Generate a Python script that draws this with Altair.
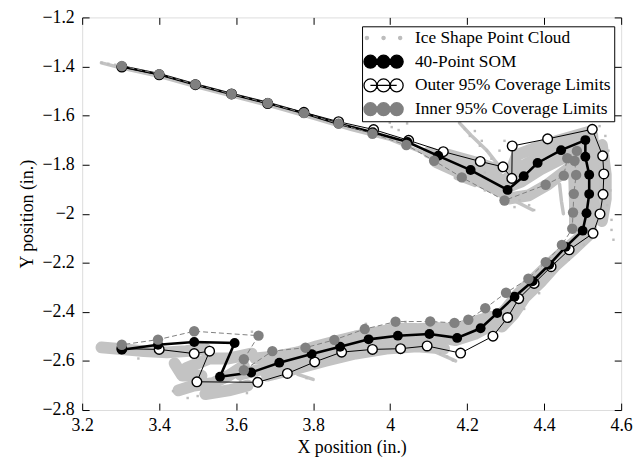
import altair as alt
import pandas as pd

# ---------------- data ----------------
x_ticks = [3.2, 3.4, 3.6, 3.8, 4.0, 4.2, 4.4, 4.6]
y_ticks = [-2.8, -2.6, -2.4, -2.2, -2.0, -1.8, -1.6, -1.4, -1.2]

series_names = ["Ice Shape Point Cloud", "40-Point SOM",
                "Outer 95% Coverage Limits", "Inner 95% Coverage Limits"]

som_x = [3.303, 3.400, 3.494, 3.588, 3.682, 3.776, 3.866, 3.955, 4.045, 4.125,
         4.209, 4.305, 4.347, 4.383, 4.444, 4.507, 4.507, 4.517, 4.517, 4.510,
         4.500, 4.456, 4.413, 4.370, 4.323, 4.278, 4.235, 4.174, 4.102, 4.020,
         3.944, 3.870, 3.796, 3.712, 3.639, 3.558, 3.596, 3.491, 3.397, 3.303]
som_y = [-1.400, -1.432, -1.473, -1.512, -1.549, -1.590, -1.633, -1.668, -1.708, -1.764,
         -1.822, -1.903, -1.847, -1.793, -1.741, -1.700, -1.768, -1.841, -1.920, -1.998,
         -2.069, -2.135, -2.208, -2.275, -2.338, -2.405, -2.467, -2.506, -2.490, -2.497,
         -2.512, -2.542, -2.572, -2.607, -2.647, -2.664, -2.527, -2.523, -2.534, -2.554]

outer_x = [3.303, 3.400, 3.494, 3.588, 3.682, 3.776, 3.866, 3.957, 4.048, 4.138,
           4.234, 4.293, 4.316, 4.317, 4.409, 4.525, 4.552, 4.555, 4.553, 4.545,
           4.527, 4.465, 4.418, 4.374, 4.334, 4.305, 4.267, 4.183, 4.096, 4.027,
           3.954, 3.874, 3.804, 3.733, 3.656, 3.498, 3.531, 3.491, 3.400, 3.303]
outer_y = [-1.402, -1.434, -1.474, -1.512, -1.551, -1.587, -1.625, -1.657, -1.701, -1.747,
           -1.787, -1.809, -1.856, -1.724, -1.695, -1.656, -1.764, -1.838, -1.921, -2.001,
           -2.080, -2.147, -2.216, -2.284, -2.346, -2.423, -2.499, -2.568, -2.539, -2.550,
           -2.553, -2.564, -2.604, -2.651, -2.687, -2.685, -2.560, -2.570, -2.553, -2.550]

inner_x = [3.303, 3.400, 3.494, 3.588, 3.682, 3.776, 3.866, 3.954, 4.042, 4.114,
           4.186, 4.297, 4.404, 4.451, 4.460, 4.485, 4.479, 4.483, 4.477, 4.475,
           4.473, 4.446, 4.404, 4.359, 4.301, 4.247, 4.203, 4.167, 4.104, 4.014,
           3.934, 3.855, 3.780, 3.694, 3.620, 3.620, 3.658, 3.491, 3.397, 3.303]
inner_y = [-1.398, -1.431, -1.473, -1.512, -1.549, -1.590, -1.633, -1.674, -1.720, -1.784,
           -1.852, -1.946, -1.882, -1.845, -1.774, -1.744, -1.784, -1.842, -1.919, -1.995,
           -2.061, -2.127, -2.197, -2.265, -2.322, -2.385, -2.432, -2.445, -2.439, -2.440,
           -2.470, -2.514, -2.546, -2.560, -2.638, -2.593, -2.497, -2.479, -2.513, -2.534]

# dense streaks of the ice-shape point cloud (one id per streak)
band_id = ([1] * 5 + [2] * 5 + [3] * 5 + [4] * 4 + [5] * 4 + [6] * 4 + [7] * 3
           + [8] * 4 + [9] * 4 + [10] * 4 + [11] * 4 + [12] * 7 + [13] * 7
           + [14] * 15 + [15] * 13 + [16] * 7 + [17] * 4 + [18] * 5 + [19] * 3
           + [20] * 3 + [21] * 6)
band_x = [4.30, 4.35, 4.41, 4.47, 4.52,
          4.315, 4.33, 4.38, 4.44, 4.52,
          4.29, 4.34, 4.39, 4.44, 4.49,
          4.30, 4.36, 4.41, 4.46,
          4.10, 4.17, 4.24, 4.30,
          4.12, 4.19, 4.25, 4.30,
          4.15, 4.22, 4.28,
          4.475, 4.478, 4.48, 4.48,
          4.50, 4.505, 4.505, 4.50,
          4.525, 4.53, 4.53, 4.52,
          4.55, 4.56, 4.56, 4.55,
          4.49, 4.46, 4.41, 4.37, 4.33, 4.30, 4.27,
          4.52, 4.48, 4.43, 4.39, 4.35, 4.32, 4.29,
          4.29, 4.25, 4.22, 4.17, 4.12, 4.07, 4.01, 3.96, 3.91, 3.86, 3.81, 3.76, 3.71, 3.65, 3.61,
          4.26, 4.22, 4.17, 4.12, 4.07, 4.01, 3.96, 3.91, 3.86, 3.81, 3.76, 3.71, 3.65,
          4.14, 4.07, 3.99, 3.91, 3.83, 3.76, 3.68,
          3.64, 3.58, 3.53, 3.47,
          3.62, 3.58, 3.54, 3.49, 3.45,
          3.63, 3.58, 3.52,
          3.51, 3.46, 3.44,
          3.25, 3.31, 3.36, 3.42, 3.47, 3.52]
band_y = [-1.86, -1.80, -1.75, -1.71, -1.68,
          -1.82, -1.76, -1.73, -1.70, -1.665,
          -1.90, -1.87, -1.82, -1.78, -1.74,
          -1.94, -1.925, -1.88, -1.82,
          -1.75, -1.79, -1.83, -1.87,
          -1.79, -1.84, -1.88, -1.92,
          -1.76, -1.79, -1.82,
          -1.74, -1.85, -1.96, -2.06,
          -1.70, -1.82, -1.95, -2.08,
          -1.68, -1.80, -1.93, -2.08,
          -1.72, -1.84, -1.94, -2.03,
          -2.10, -2.14, -2.21, -2.27, -2.33, -2.39, -2.44,
          -2.08, -2.14, -2.21, -2.28, -2.34, -2.41, -2.46,
          -2.45, -2.465, -2.49, -2.515, -2.50, -2.505, -2.50, -2.52, -2.54, -2.56, -2.585, -2.605, -2.62, -2.64, -2.655,
          -2.42, -2.44, -2.47, -2.465, -2.47, -2.47, -2.485, -2.50, -2.52, -2.54, -2.565, -2.58, -2.59,
          -2.55, -2.54, -2.55, -2.57, -2.60, -2.63, -2.66,
          -2.57, -2.59, -2.59, -2.63,
          -2.62, -2.66, -2.69, -2.70, -2.72,
          -2.70, -2.72, -2.735,
          -2.66, -2.66, -2.61,
          -2.545, -2.553, -2.56, -2.565, -2.56, -2.55]

# thin streaks of the point cloud
trail_id = [1] * 10 + [2] * 3 + [3] * 2 + [4] * 2 + [5] * 2 + [6] * 2 + [7] * 4
trail_x = [3.25, 3.30, 3.40, 3.50, 3.60, 3.70, 3.80, 3.90, 4.00, 4.10,
           4.44, 4.445, 4.45,
           4.17, 4.22,
           4.32, 4.37,
           4.12, 4.17,
           3.76, 3.80,
           4.18, 4.21, 4.25, 4.28]
trail_y = [-1.385, -1.405, -1.44, -1.484, -1.525, -1.565, -1.61, -1.657, -1.697, -1.76,
           -1.88, -1.95, -2.00,
           -1.855, -1.885,
           -1.945, -1.985,
           -2.565, -2.60,
           -2.655, -2.675,
           -1.63, -1.68, -1.74, -1.80]

# scattered single dots of the point cloud
cloud_dot_x = [3.251, 3.268, 3.286,
               3.999, 4.004, 4.022, 4.044, 4.181, 4.194, 4.207, 4.220, 4.238, 4.251,
               4.263, 4.276, 4.233, 4.215, 4.246, 4.284, 4.297,
               4.562, 4.567, 4.572, 4.564, 4.575, 4.580, 4.559, 4.544, 4.567, 4.575,
               4.220, 4.246, 4.168, 4.194, 4.336, 4.361, 4.374, 4.323, 4.130,
               4.130, 4.148, 4.163, 3.783, 3.611, 3.628, 3.436, 3.474, 3.500, 3.346,
               3.641, 3.667, 4.040, 3.937,
               4.503, 4.464, 4.387, 4.348]
cloud_dot_y = [-1.385, -1.389, -1.393,
               -1.629, -1.647, -1.659, -1.632, -1.630, -1.655, -1.683, -1.663, -1.703, -1.743,
               -1.776, -1.804, -1.723, -1.804, -1.832, -1.743, -1.703,
               -1.784, -1.844, -1.905, -1.965, -2.025, -2.106, -1.683, -1.643, -1.743, -2.066,
               -1.884, -1.905, -1.852, -1.864, -1.945, -1.965, -1.985, -1.973, -1.784,
               -2.570, -2.582, -2.598, -2.670, -2.683, -2.731, -2.723, -2.751, -2.743, -2.590,
               -2.481, -2.489, -2.441, -2.449,
               -2.126, -2.187, -2.324, -2.388]

# ---------------- tables ----------------
som_df = pd.DataFrame({"x": som_x, "y": som_y, "i": range(len(som_x))})
outer_df = pd.DataFrame({"x": outer_x, "y": outer_y, "i": range(len(outer_x))})
inner_df = pd.DataFrame({"x": inner_x, "y": inner_y, "i": range(len(inner_x))})
band_df = pd.DataFrame({"x": band_x, "y": band_y, "g": band_id, "i": range(len(band_x))})
trail_df = pd.DataFrame({"x": trail_x, "y": trail_y, "g": trail_id, "i": range(len(trail_x))})
dot_df = pd.DataFrame({"x": cloud_dot_x, "y": cloud_dot_y})
legend_df = pd.DataFrame({"series": series_names})

FONT = "Liberation Serif"
W, H = 545, 397
CLOUD = "#c3c3c3"

xscale = alt.Scale(domain=[3.2, 4.6], nice=False, zero=False)
yscale = alt.Scale(domain=[-2.8, -1.2], nice=False, zero=False)


def main_x():
    return alt.Axis(orient="bottom", values=x_ticks, format=".1~f", grid=False, domain=False,
                    ticks=False, tickSize=0, labelPadding=7, labelFont=FONT, labelFontSize=18,
                    labelColor="black", title="X position (in.)", titleFont=FONT,
                    titleFontSize=18, titleFontWeight="normal", titleColor="black",
                    titlePadding=4, labelFlush=False)


def main_y():
    return alt.Axis(orient="left", values=y_ticks, format=".1~f", grid=False, domain=False,
                    ticks=False, tickSize=0, labelPadding=8, labelFont=FONT, labelFontSize=18,
                    labelColor="black", title="Y position (in.)", titleFont=FONT,
                    titleFontSize=18, titleFontWeight="normal", titleColor="black",
                    titlePadding=6, labelFlush=False)


def tick_axis(orient, values, offset):
    return alt.Axis(orient=orient, values=values, offset=offset, labels=False, domain=False,
                    grid=False, ticks=True, tickSize=7, tickColor="black", tickWidth=1,
                    title=None)


def X(axis):
    return alt.X("x:Q", scale=xscale, axis=axis)


def Y(axis):
    return alt.Y("y:Q", scale=yscale, axis=axis)


cloud_band = alt.Chart(band_df).mark_line(color=CLOUD, strokeWidth=12, strokeCap="round",
                                          strokeJoin="round").encode(
    x=X(main_x()), y=Y(main_y()), detail="g:N", order="i:Q")

cloud_trail = alt.Chart(trail_df).mark_line(color=CLOUD, strokeWidth=3.5, strokeCap="round",
                                            strokeJoin="round").encode(
    x=X(tick_axis("top", x_ticks, -H)), y=Y(tick_axis("right", y_ticks, -W)),
    detail="g:N", order="i:Q")

cloud_dots = alt.Chart(dot_df).mark_square(size=6, color="#bdbdbd", opacity=1).encode(
    x=X(tick_axis("bottom", x_ticks, -H)), y=Y(tick_axis("left", y_ticks, -W)))

outer_line = alt.Chart(outer_df).mark_line(color="black", strokeWidth=1).encode(
    x=X(None), y=Y(None), order="i:Q")

som_line = alt.Chart(som_df).mark_line(color="black", strokeWidth=2.6).encode(
    x=X(None), y=Y(None), order="i:Q")

inner_line = alt.Chart(inner_df).mark_line(color="#808080", strokeWidth=1,
                                           strokeDash=[5, 3]).encode(
    x=X(None), y=Y(None), order="i:Q")

outer_pts = alt.Chart(outer_df).mark_point(shape="circle", filled=True, fill="white",
                                           stroke="black", strokeWidth=1.4, size=95,
                                           opacity=1).encode(x=X(None), y=Y(None))

som_pts = alt.Chart(som_df).mark_circle(size=100, color="black", opacity=1).encode(
    x=X(None), y=Y(None))

inner_pts = alt.Chart(inner_df).mark_circle(size=110, color="#808080", opacity=1).encode(
    x=X(None), y=Y(None))


def circ(cx, r):
    return f"M{cx - r:.3f},0A{r},{r} 0 1,1 {cx + r:.3f},0A{r},{r} 0 1,1 {cx - r:.3f},0Z"


# legend glyphs: symbolSize 196 -> 7 px per path unit
dots_path = circ(-2.4, 0.23) + circ(0, 0.23) + circ(2.4, 0.23)
thin_path = "M-1.9,0L1.9,0" + circ(-1.9, 0.93) + circ(0, 0.93) + circ(1.9, 0.93)
thick_path = ("M-1.9,-0.18L1.9,-0.18L1.9,0.18L-1.9,0.18Z"
              + circ(-1.9, 0.93) + circ(0, 0.93) + circ(1.9, 0.93))

leg = alt.Legend(title=None, orient="none", legendX=283, legendY=9, padding=3,
                 strokeColor="black", fillColor="white", labelFont=FONT,
                 labelFontSize=17.5, labelColor="black", symbolSize=196,
                 symbolStrokeWidth=1.3, symbolOffset=10, labelOffset=23, rowPadding=5,
                 labelLimit=400, cornerRadius=0, symbolOpacity=1)

legend_layer = alt.Chart(legend_df).mark_point(opacity=1, strokeWidth=1.3).encode(
    shape=alt.Shape("series:N", scale=alt.Scale(domain=series_names,
                                                range=[dots_path, thick_path, thin_path, thin_path]),
                    legend=leg),
    fill=alt.Fill("series:N", scale=alt.Scale(domain=series_names,
                                              range=["#bdbdbd", "black", "white", "#808080"]),
                  legend=leg),
    stroke=alt.Stroke("series:N", scale=alt.Scale(domain=series_names,
                                                  range=["#bdbdbd", "black", "black", "#808080"]),
                      legend=leg),
).transform_filter("false")

chart = alt.layer(
    cloud_band, cloud_trail, cloud_dots, outer_line, som_line, inner_line,
    outer_pts, som_pts, inner_pts, legend_layer
).resolve_axis(x="independent", y="independent").properties(
    width=W, height=H,
    autosize=alt.AutoSizeParams(type="none"),
    padding={"left": 75, "top": 7, "right": 14, "bottom": 47},
).configure_view(stroke="black", strokeWidth=1).configure(background="white")

chart.save("out.html", embed_options={"renderer": "svg", "actions": False})
